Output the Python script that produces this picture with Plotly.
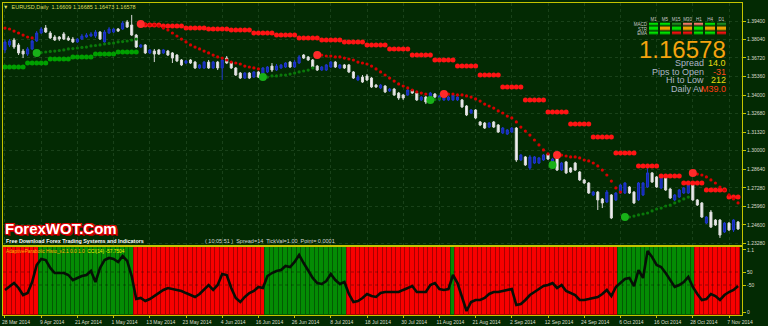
import plotly.graph_objects as go

W, H = 768, 326
FONT = "Liberation Sans, Arial, sans-serif"

# ---------------- data ----------------
opens = [
    1.3730, 1.3766, 1.3802, 1.3766, 1.3722, 1.3700, 1.3737, 1.3795, 1.3853, 1.3889,
    1.3853, 1.3824, 1.3824, 1.3846, 1.3817, 1.3809, 1.3788, 1.3809, 1.3824, 1.3831,
    1.3831, 1.3860, 1.3788, 1.3853, 1.3860, 1.3882, 1.3882, 1.3933, 1.3911, 1.3838,
    1.3751, 1.3766, 1.3708, 1.3722, 1.3730, 1.3708, 1.3722, 1.3708, 1.3693, 1.3657,
    1.3635, 1.3657, 1.3642, 1.3599, 1.3599, 1.3642, 1.3599, 1.3642, 1.3599, 1.3671,
    1.3642, 1.3599, 1.3562, 1.3526, 1.3562, 1.3533, 1.3570, 1.3533, 1.3570, 1.3613,
    1.3584, 1.3599, 1.3606, 1.3642, 1.3606, 1.3635, 1.3693, 1.3679, 1.3657, 1.3613,
    1.3584, 1.3584, 1.3606, 1.3642, 1.3599, 1.3621, 1.3621, 1.3570, 1.3512, 1.3533,
    1.3541, 1.3526, 1.3475, 1.3454, 1.3468, 1.3432, 1.3446, 1.3417, 1.3403, 1.3403,
    1.3439, 1.3417, 1.3367, 1.3388, 1.3367, 1.3410, 1.3367, 1.3367, 1.3367, 1.3367,
    1.3367, 1.3367, 1.3323, 1.3272, 1.3294, 1.3207, 1.3199, 1.3170, 1.3207, 1.3185,
    1.3127, 1.3119, 1.3134, 1.3163, 1.2931, 1.2953, 1.2873, 1.2909, 1.2909, 1.2931,
    1.2975, 1.2880, 1.2975, 1.2858, 1.2917, 1.2873, 1.2909, 1.2844, 1.2786, 1.2764,
    1.2677, 1.2698, 1.2648, 1.2626, 1.2677, 1.2641, 1.2691, 1.2691, 1.2735, 1.2698,
    1.2641, 1.2677, 1.2735, 1.2837, 1.2808, 1.2728, 1.2808, 1.2720, 1.2641, 1.2662,
    1.2691, 1.2691, 1.2749, 1.2641, 1.2619, 1.2473, 1.2553, 1.2495, 1.2495, 1.2408,
    1.2473, 1.2423, 1.2481,
]
highs = [
    1.3802, 1.3809, 1.3817, 1.3780, 1.3737, 1.3751, 1.3802, 1.3867, 1.3896, 1.3911,
    1.3867, 1.3838, 1.3831, 1.3860, 1.3831, 1.3824, 1.3817, 1.3846, 1.3853, 1.3860,
    1.3875, 1.3867, 1.3875, 1.3896, 1.3889, 1.3889, 1.3940, 1.3947, 1.3984, 1.3846,
    1.3773, 1.3773, 1.3737, 1.3737, 1.3737, 1.3737, 1.3730, 1.3715, 1.3700, 1.3664,
    1.3657, 1.3664, 1.3650, 1.3628, 1.3650, 1.3657, 1.3650, 1.3650, 1.3671, 1.3686,
    1.3650, 1.3606, 1.3570, 1.3570, 1.3570, 1.3577, 1.3577, 1.3606, 1.3613, 1.3635,
    1.3628, 1.3628, 1.3642, 1.3650, 1.3657, 1.3693, 1.3700, 1.3686, 1.3664, 1.3621,
    1.3613, 1.3628, 1.3650, 1.3650, 1.3628, 1.3628, 1.3628, 1.3577, 1.3548, 1.3548,
    1.3555, 1.3533, 1.3483, 1.3483, 1.3475, 1.3454, 1.3454, 1.3425, 1.3410, 1.3454,
    1.3446, 1.3425, 1.3396, 1.3396, 1.3425, 1.3417, 1.3403, 1.3396, 1.3396, 1.3410,
    1.3396, 1.3374, 1.3330, 1.3301, 1.3301, 1.3214, 1.3207, 1.3207, 1.3214, 1.3192,
    1.3170, 1.3156, 1.3170, 1.3170, 1.2975, 1.2960, 1.2967, 1.2960, 1.2953, 1.2975,
    1.2982, 1.2946, 1.2989, 1.2917, 1.2924, 1.2880, 1.2917, 1.2851, 1.2793, 1.2771,
    1.2706, 1.2706, 1.2655, 1.2713, 1.2684, 1.2698, 1.2757, 1.2771, 1.2742, 1.2706,
    1.2771, 1.2771, 1.2873, 1.2844, 1.2815, 1.2829, 1.2815, 1.2728, 1.2684, 1.2720,
    1.2735, 1.2757, 1.2757, 1.2648, 1.2626, 1.2524, 1.2568, 1.2502, 1.2502, 1.2481,
    1.2481, 1.2502, 1.2488,
]
lows = [
    1.3708, 1.3751, 1.3737, 1.3693, 1.3671, 1.3686, 1.3730, 1.3788, 1.3846, 1.3853,
    1.3809, 1.3795, 1.3795, 1.3802, 1.3795, 1.3780, 1.3780, 1.3802, 1.3817, 1.3824,
    1.3817, 1.3802, 1.3780, 1.3846, 1.3853, 1.3860, 1.3875, 1.3889, 1.3831, 1.3744,
    1.3744, 1.3700, 1.3700, 1.3642, 1.3693, 1.3700, 1.3686, 1.3635, 1.3642, 1.3613,
    1.3628, 1.3628, 1.3592, 1.3592, 1.3592, 1.3592, 1.3592, 1.3584, 1.3512, 1.3628,
    1.3592, 1.3541, 1.3519, 1.3519, 1.3519, 1.3526, 1.3526, 1.3526, 1.3562, 1.3570,
    1.3577, 1.3592, 1.3599, 1.3599, 1.3599, 1.3628, 1.3664, 1.3650, 1.3599, 1.3577,
    1.3577, 1.3577, 1.3599, 1.3599, 1.3592, 1.3592, 1.3562, 1.3519, 1.3504, 1.3490,
    1.3504, 1.3454, 1.3454, 1.3446, 1.3417, 1.3425, 1.3396, 1.3367, 1.3367, 1.3396,
    1.3410, 1.3359, 1.3359, 1.3337, 1.3359, 1.3381, 1.3359, 1.3359, 1.3359, 1.3359,
    1.3359, 1.3308, 1.3250, 1.3265, 1.3228, 1.3177, 1.3156, 1.3163, 1.3163, 1.3127,
    1.3119, 1.3112, 1.3127, 1.2917, 1.2924, 1.2888, 1.2858, 1.2902, 1.2902, 1.2924,
    1.2931, 1.2873, 1.2851, 1.2851, 1.2829, 1.2837, 1.2851, 1.2778, 1.2757, 1.2684,
    1.2669, 1.2568, 1.2582, 1.2619, 1.2502, 1.2633, 1.2684, 1.2684, 1.2684, 1.2611,
    1.2633, 1.2669, 1.2728, 1.2764, 1.2728, 1.2720, 1.2706, 1.2648, 1.2633, 1.2655,
    1.2684, 1.2684, 1.2633, 1.2597, 1.2510, 1.2466, 1.2437, 1.2452, 1.2365, 1.2401,
    1.2415, 1.2408, 1.2423,
]
closes = [
    1.3788, 1.3795, 1.3751, 1.3708, 1.3700, 1.3737, 1.3795, 1.3853, 1.3882, 1.3860,
    1.3817, 1.3802, 1.3809, 1.3809, 1.3802, 1.3788, 1.3809, 1.3831, 1.3838, 1.3846,
    1.3860, 1.3809, 1.3860, 1.3882, 1.3882, 1.3867, 1.3925, 1.3896, 1.3838, 1.3751,
    1.3766, 1.3708, 1.3730, 1.3700, 1.3700, 1.3730, 1.3693, 1.3671, 1.3650, 1.3621,
    1.3650, 1.3635, 1.3599, 1.3621, 1.3642, 1.3599, 1.3642, 1.3599, 1.3657, 1.3635,
    1.3599, 1.3548, 1.3526, 1.3562, 1.3526, 1.3570, 1.3533, 1.3599, 1.3606, 1.3584,
    1.3613, 1.3621, 1.3635, 1.3606, 1.3642, 1.3679, 1.3671, 1.3657, 1.3606, 1.3584,
    1.3606, 1.3621, 1.3642, 1.3606, 1.3621, 1.3599, 1.3570, 1.3526, 1.3533, 1.3497,
    1.3512, 1.3461, 1.3461, 1.3475, 1.3425, 1.3446, 1.3403, 1.3381, 1.3381, 1.3439,
    1.3417, 1.3367, 1.3388, 1.3352, 1.3417, 1.3388, 1.3396, 1.3388, 1.3388, 1.3403,
    1.3388, 1.3316, 1.3258, 1.3294, 1.3236, 1.3185, 1.3163, 1.3199, 1.3170, 1.3134,
    1.3163, 1.3149, 1.3163, 1.2931, 1.2967, 1.2895, 1.2953, 1.2953, 1.2946, 1.2967,
    1.2938, 1.2938, 1.2858, 1.2909, 1.2837, 1.2844, 1.2858, 1.2786, 1.2764, 1.2691,
    1.2698, 1.2641, 1.2619, 1.2698, 1.2510, 1.2691, 1.2749, 1.2764, 1.2691, 1.2619,
    1.2764, 1.2764, 1.2837, 1.2771, 1.2735, 1.2822, 1.2713, 1.2655, 1.2677, 1.2713,
    1.2728, 1.2749, 1.2641, 1.2604, 1.2517, 1.2517, 1.2444, 1.2459, 1.2386, 1.2473,
    1.2423, 1.2495, 1.2430,
]

# Parabolic SAR segments: (direction, first bar index, values)
sar_segments = [
    ("down", 0, [1.3889, 1.3882, 1.3867, 1.3853, 1.3838, 1.3824, 1.3817]),
    ("up", 7, [1.3708, 1.3711, 1.3715, 1.3719, 1.3722, 1.3726, 1.3730, 1.3737, 1.3740, 1.3744,
               1.3748, 1.3751, 1.3759, 1.3762, 1.3766, 1.3773, 1.3777, 1.3780, 1.3788, 1.3791,
               1.3795, 1.3802, 1.3809]),
    ("down", 30, [1.3918, 1.3918, 1.3911, 1.3911, 1.3904, 1.3889, 1.3875, 1.3853, 1.3831, 1.3809,
                  1.3788, 1.3766, 1.3751, 1.3737, 1.3722, 1.3708, 1.3693, 1.3679, 1.3671, 1.3657,
                  1.3642, 1.3635, 1.3628, 1.3613, 1.3606, 1.3599, 1.3592]),
    ("up", 57, [1.3533, 1.3533, 1.3541, 1.3541, 1.3548, 1.3548, 1.3555, 1.3562, 1.3570, 1.3577,
                1.3584, 1.3599]),
    ("down", 69, [1.3693, 1.3693, 1.3686, 1.3686, 1.3679, 1.3679, 1.3671, 1.3664, 1.3657, 1.3642,
                  1.3635, 1.3628, 1.3613, 1.3592, 1.3570, 1.3548, 1.3526, 1.3504, 1.3483, 1.3468,
                  1.3454, 1.3439, 1.3425, 1.3417, 1.3410]),
    ("up", 94, [1.3367, 1.3370, 1.3374]),
    ("down", 97, [1.3410, 1.3410, 1.3410, 1.3403, 1.3403, 1.3396, 1.3388, 1.3374, 1.3359, 1.3337,
                  1.3323, 1.3308, 1.3287, 1.3272, 1.3250, 1.3236, 1.3207, 1.3170, 1.3141, 1.3112,
                  1.3076, 1.3040, 1.3004, 1.2975]),
    ("up", 121, [1.2895]),
    ("down", 122, [1.2967, 1.2967, 1.2960, 1.2953, 1.2953, 1.2946, 1.2931, 1.2924, 1.2909, 1.2888,
                   1.2858, 1.2822, 1.2778, 1.2728, 1.2698]),
    ("up", 137, [1.2517, 1.2517, 1.2524, 1.2532, 1.2539, 1.2546, 1.2561, 1.2575, 1.2582, 1.2597,
                 1.2604, 1.2619, 1.2633, 1.2648, 1.2662]),
    ("down", 152, [1.2837, 1.2829, 1.2822, 1.2808, 1.2786, 1.2764, 1.2735, 1.2713, 1.2677, 1.2648,
                   1.2619]),
]

# stepped stop levels (one level per 5-bar block)
step_len = 5
green_step_start = 0
green_steps = [1.3606, 1.3635, 1.3664, 1.3679, 1.3700, 1.3715]
red_step_start = 30
red_steps = [1.3911, 1.3904, 1.3889, 1.3882, 1.3875, 1.3853, 1.3838, 1.3817, 1.3802, 1.3788,
             1.3766, 1.3737, 1.3693, 1.3657, 1.3613, 1.3548, 1.3461, 1.3367, 1.3279, 1.3192,
             1.3098, 1.2982, 1.2888, 1.2815, 1.2764, 1.2713, 1.2662]

# lower window: CCI(14) and Adaptive Parabolic histogram
cci = [
    -88, -58, -35, -73, -127, -112, -27, 104, 150, 142,
    81, 42, 42, 42, 27, -12, 4, 19, 27, 58,
    -27, 81, 142, 158, 150, 127, 173, 135, 19, -158,
    -150, -173, -158, -135, -112, -88, -73, -81, -88, -96,
    -112, -127, -142, -119, -81, -50, -88, -50, 35, 27,
    -73, -150, -181, -142, -112, -96, -65, -73, 19, 42,
    58, 65, 96, 88, 127, 181, 119, 65, 4, -35,
    -42, -19, 35, -12, -42, -27, -119, -181, -173, -150,
    -119, -135, -142, -112, -104, -104, -104, -104, -88, -73,
    -58, -104, -104, -104, -50, -35, -81, -88, -81, 27,
    -35, -135, -250, -181, -165, -165, -150, -119, -104, -104,
    -96, -88, -81, -204, -196, -165, -127, -104, -81, -58,
    -50, -35, -73, -50, -96, -112, -127, -165, -165, -158,
    -150, -142, -119, -88, -135, -65, -35, -4, 4, -58,
    65, 4, 212, 165, 104, 88, 42, -12, -65, -50,
    -27, 12, -65, -119, -165, -158, -119, -135, -165, -127,
    -104, -88, -57.75,
]
hist_runs = [("red", 8), ("green", 21), ("red", 29), ("green", 18), ("red", 23),
             ("green", 1), ("red", 36), ("green", 17), ("red", 10)]
hist_range = [-0.053, 1.153]
cci_levels = [50, -50]

# axes labels
tick_idx = list(range(0, 161, 8))
tick_labels = ["28 Mar 2014", "9 Apr 2014", "21 Apr 2014", "1 May 2014", "13 May 2014",
               "23 May 2014", "4 Jun 2014", "16 Jun 2014", "26 Jun 2014", "8 Jul 2014",
               "18 Jul 2014", "30 Jul 2014", "11 Aug 2014", "21 Aug 2014", "2 Sep 2014",
               "12 Sep 2014", "24 Sep 2014", "6 Oct 2014", "16 Oct 2014", "28 Oct 2014",
               "7 Nov 2014"]
price_ticks = [1.39400, 1.38040, 1.36720, 1.35360, 1.34000, 1.32680, 1.31320,
               1.30000, 1.28640, 1.27280, 1.25960, 1.24600, 1.23280]
hist_ticks = [0, 1.1]
hist_tick_text = ["0", "1.1"]

# info widget
info_tf = ["M1", "M5", "M15", "M30", "H1", "H4", "D1"]
info_rows = ["MACD", "STR", "EMA"]
info_state = {
    "MACD": ["lime", "lime", "dkgreen", "salmon", "salmon", "lime", "dkgreen"],
    "STR": ["lime", "orange", "lime", "orange", "lime", "orange", "orange"],
    "EMA": ["lime", "lime", "red", "red", "lime", "lime", "red"],
}
last_price = "1.16578"
info_lines = [("Spread", "14.0", "#e8dc10"), ("Pips to Open", "-31", "#ff4a1c"),
              ("Hi to Low", "212", "#e8dc10"), ("Daily Av", "M39.0", "#ff3a12")]

# ---------------- styling ----------------
BG = "#032a03"
BORDER = "#c4c400"
GRID = "rgba(130,170,130,0.18)"
LBL = "#dcdccc"

n = len(closes)
idx = list(range(n))

hist_colors, hist_lines = [], []
for col, cnt in hist_runs:
    hist_colors += [{"red": "#f80000", "green": "#048c04"}[col]] * cnt
    hist_lines += [{"red": "#a80000", "green": "#035a03"}[col]] * cnt

sdx, sdy, sux, suy, fdx, fdy, fux, fuy = [], [], [], [], [], [], [], []
for k, (kind, start, vals) in enumerate(sar_segments):
    xs = list(range(start, start + len(vals)))
    if kind == "down":
        sdx += xs; sdy += vals
        if k > 0:
            fdx.append(xs[0]); fdy.append(vals[0])
    else:
        sux += xs; suy += vals
        fux.append(xs[0]); fuy.append(vals[0])


def expand_steps(start, levels):
    xs, ys = [], []
    for g, lvl in enumerate(levels):
        for j in range(step_len):
            i = start + g * step_len + j
            if i < n:
                xs.append(i); ys.append(lvl)
    return xs, ys


gsx, gsy = expand_steps(green_step_start, green_steps)
rsx, rsy = expand_steps(red_step_start, red_steps)

fig = go.Figure()
fig.add_trace(go.Candlestick(
    x=idx, open=opens, high=highs, low=lows, close=closes,
    increasing=dict(fillcolor="#1226b0", line=dict(color="#2038cc", width=1)),
    decreasing=dict(fillcolor="#f2f2f2", line=dict(color="#d8d8d8", width=1)),
    whiskerwidth=0, hoverinfo="skip", xaxis="x", yaxis="y"))
fig.add_trace(go.Scatter(x=gsx, y=gsy, mode="markers",
                         marker=dict(color="#00a000", size=5), hoverinfo="skip"))
fig.add_trace(go.Scatter(x=sux, y=suy, mode="markers",
                         marker=dict(color="#0a780a", size=3.2), hoverinfo="skip"))
fig.add_trace(go.Scatter(x=rsx, y=rsy, mode="markers",
                         marker=dict(color="#ff1414", size=5), hoverinfo="skip"))
fig.add_trace(go.Scatter(x=sdx, y=sdy, mode="markers",
                         marker=dict(color="#d80000", size=3.2), hoverinfo="skip"))
fig.add_trace(go.Scatter(x=fdx, y=fdy, mode="markers",
                         marker=dict(color="#ff2a2a", size=8), hoverinfo="skip"))
fig.add_trace(go.Scatter(x=fux, y=fuy, mode="markers",
                         marker=dict(color="#18b018", size=8), hoverinfo="skip"))

# lower window: histogram bands fill the whole window height
fig.add_trace(go.Bar(x=idx, y=[hist_range[1] - hist_range[0]] * n, base=hist_range[0], width=1,
                     marker=dict(color=hist_colors, line=dict(color=hist_lines, width=1)),
                     hoverinfo="skip", xaxis="x2", yaxis="y2"))
fig.add_trace(go.Scatter(x=idx, y=cci, mode="lines",
                         line=dict(color="#061006", width=2.6),
                         hoverinfo="skip", xaxis="x2", yaxis="y3"))

# info widget as a small heatmap
palette = ["#00e000", "#1f8a1f", "#f07868", "#eca000", "#f01010"]
codes = {"lime": 0, "dkgreen": 1, "salmon": 2, "orange": 3, "red": 4}
cs = []
for k, c in enumerate(palette):
    cs += [[k / 5, c], [(k + 1) / 5, c]]
fig.add_trace(go.Heatmap(
    x=info_tf, y=info_rows, z=[[codes[s] for s in info_state[r]] for r in info_rows],
    colorscale=cs, zmin=-0.5, zmax=4.5, showscale=False, xgap=2, ygap=1.4,
    hoverinfo="skip", xaxis="x3", yaxis="y4"))


def fx(px):
    return px / W


def fy(py):
    return 1 - py / H


PL, PR = 3, 742
MT, MB = 3, 245
ST, SB = 247, 315
XR = [-0.44, 162.87]
small = dict(family=FONT, size=5, color=LBL)
tiny = dict(family=FONT, size=4.5, color="#c8c8c8")

fig.update_layout(
    width=W, height=H, margin=dict(l=0, r=0, t=0, b=0, pad=0, autoexpand=False), autosize=False,
    paper_bgcolor=BG, plot_bgcolor=BG, showlegend=False, hovermode=False,
    boxgap=0.35, bargap=0,
    xaxis=dict(domain=[fx(PL), fx(PR)], range=XR, anchor="y", showticklabels=False,
               tickmode="array", tickvals=tick_idx, ticks="", automargin=False,
               showgrid=True, gridcolor=GRID, griddash="dot", gridwidth=1,
               showline=True, mirror=True, linecolor=BORDER, linewidth=1,
               zeroline=False, rangeslider=dict(visible=False), fixedrange=True),
    yaxis=dict(domain=[fy(MB), fy(MT)], range=[1.23138, 1.40707], anchor="x", side="right",
               tickmode="array", tickvals=price_ticks, ticktext=[f"{v:.5f}" for v in price_ticks],
               tickfont=small, ticks="outside", ticklen=3, tickcolor=BORDER, automargin=False,
               showgrid=True, gridcolor=GRID, griddash="dot", gridwidth=1,
               showline=True, mirror=True, linecolor=BORDER, linewidth=1,
               zeroline=False, fixedrange=True),
    xaxis2=dict(domain=[fx(PL), fx(PR)], range=XR, anchor="y2", automargin=False,
                tickmode="array", tickvals=tick_idx, ticktext=tick_labels, tickfont=small,
                tickangle=0, ticks="outside", ticklen=2, tickcolor=BORDER, ticklabelshift=11,
                ticklabeloverflow="allow",
                showgrid=False, showline=True, mirror=True, linecolor=BORDER, linewidth=1,
                zeroline=False, fixedrange=True),
    yaxis2=dict(domain=[fy(SB), fy(ST)], range=hist_range, anchor="x2", side="right",
                tickmode="array", tickvals=hist_ticks, ticktext=hist_tick_text, tickfont=small,
                ticks="outside", ticklen=3, tickcolor=BORDER, automargin=False,
                showgrid=False, showline=True, mirror=True, linecolor=BORDER, linewidth=1,
                zeroline=False, fixedrange=True),
    yaxis3=dict(overlaying="y2", anchor="x2", side="right", range=[-280.8, 242.3],
                tickmode="array", tickvals=cci_levels, ticktext=[str(v) for v in cci_levels],
                tickfont=small, ticks="outside", ticklen=3, tickcolor=BORDER, automargin=False,
                showgrid=False, showline=False, zeroline=False, fixedrange=True),
    xaxis3=dict(domain=[fx(648), fx(727)], anchor="y4", side="top", showgrid=False,
                zeroline=False, showline=False, ticks="", tickangle=0, automargin=False,
                tickmode="array", tickvals=info_tf, ticktext=info_tf,
                tickfont=tiny, fixedrange=True),
    yaxis4=dict(domain=[fy(35.5), fy(22.5)], anchor="x3", autorange="reversed",
                showgrid=False, zeroline=False, showline=False, ticks="", automargin=False,
                tickmode="array", tickvals=info_rows, ticktext=info_rows,
                tickfont=tiny, fixedrange=True),
)

for lv in cci_levels:
    fig.add_shape(type="line", xref="x2 domain", yref="y3", x0=0, x1=1, y0=lv, y1=lv,
                  line=dict(color="rgba(0,0,0,0.35)", width=1, dash="dot"), layer="above")

anns = []


def ann(text, x, y, size, color, xanchor="left", weight="normal", shadow=None):
    f = dict(family=FONT, size=size, color=color, weight=weight)
    if shadow:
        f["shadow"] = shadow
    anns.append(dict(text=text, xref="paper", yref="paper", x=fx(x), y=fy(y),
                     xanchor=xanchor, yanchor="middle", showarrow=False, font=f,
                     borderpad=0))


ann("▼  EURUSD,Daily  1.16609 1.16685 1.16473 1.16578", 2, 7, 5.5, "#dede62")
ann("ForexWOT.Com", 4, 228.5, 15, "#ffffff", weight="bold",
    shadow="1px 1px 0 #e00000, -1px -1px 0 #e00000, 1px -1px 0 #e00000, -1px 1px 0 #e00000, 2px 2px 0 #a00000")
ann("Free Download Forex Trading Systems and Indicators", 5, 240.5, 5.4, "#ffffff", weight="bold")
ann("( 10:05:51 )  Spread=14  TickVal=1.00  Point= 0.0001", 204, 240.5, 5.5, "#d8d8d8")
ann('<span style="color:#ffb400">AdaptiveParabolic Histo_v2.1 0.0 1.0</span>  '
    '<span style="color:#f4f000">CCI(14) -57.7504</span>', 5, 251, 4.8, "#ffb400")
ann(last_price, 727, 49, 24, "#f5a30f", xanchor="right")
for k, (lab, val, col) in enumerate(info_lines):
    yy = 63 + k * 8.6
    ann(lab, 705, yy, 9, "#aeb6c8", xanchor="right")
    ann(val, 727, yy, 9, col, xanchor="right")

fig.update_layout(annotations=anns)
fig.write_html("out.html")
